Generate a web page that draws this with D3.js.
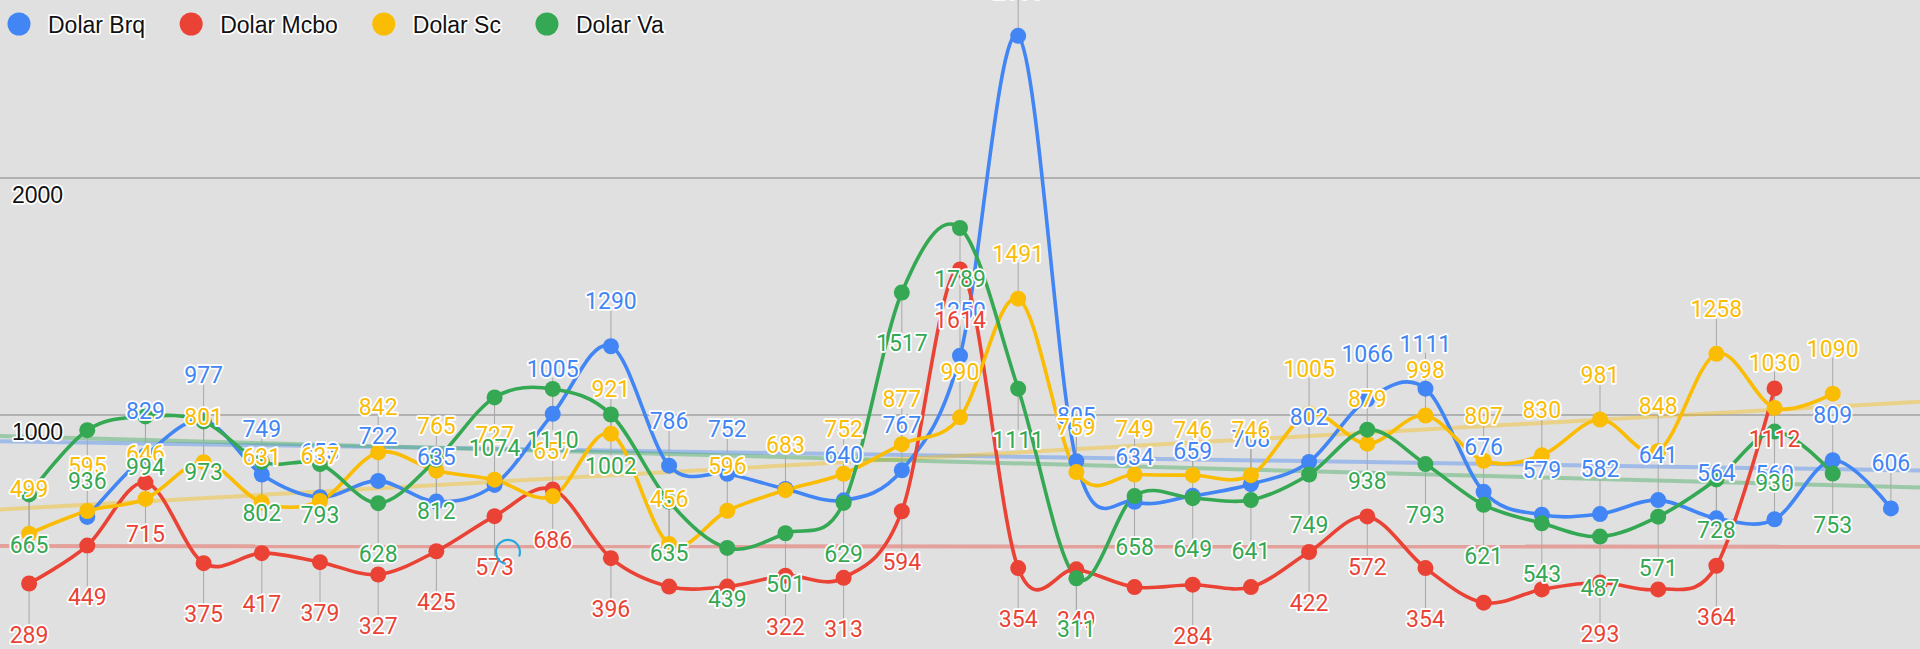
<!DOCTYPE html>
<html>
<head>
<meta charset="utf-8">
<script src="https://cdn.jsdelivr.net/npm/d3@7"></script>
<style>
html, body { margin: 0; padding: 0; background: #e0e0e0; overflow: hidden; }
svg { display: block; }
</style>
</head>
<body>
<svg id="chart" width="1920" height="649"></svg>
<script>
// ---------------- DATA ----------------
const categories = [0, 1, 2, 3, 4, 5, 6, 7, 8, 9, 10, 11, 12, 13, 14, 15, 16,
                    17, 18, 19, 20, 21, 22, 23, 24, 25, 26, 27, 28, 29, 30, 31, 32];

const seriesNames = ["Dolar Brq", "Dolar Mcbo", "Dolar Sc", "Dolar Va"];

const dolarBrq  = [null, 570, 829, 977, 749, 653, 722, 635, 705, 1005, 1290, 786, 752, 688, 640, 767,
                   1250, 2600, 805, 634, 659, 708, 802, 1066, 1111, 676, 579, 582, 641, 564, 560, 809, 606];
const dolarMcbo = [289, 449, 715, 375, 417, 379, 327, 425, 573, 686, 396, 276, 276, 322, 313, 594,
                   1614, 354, 349, 274, 284, 274, 422, 572, 354, 208, 264, 293, 264, 364, 1112, null, null];
const dolarSc   = [499, 595, 646, 801, 631, 637, 842, 765, 727, 657, 921, 456, 596, 683, 752, 877,
                   990, 1491, 759, 749, 746, 746, 1005, 879, 998, 807, 830, 981, 848, 1258, 1030, 1090, null];
const dolarVa   = [665, 936, 994, 973, 802, 793, 628, 812, 1074, 1110, 1002, 635, 439, 501, 629, 1517,
                   1789, 1111, 311, 658, 649, 641, 749, 938, 793, 621, 543, 487, 571, 728, 930, 753, null];

const yTickValues = [0, 1000, 2000, 3000];
const yTickLabels = ["0", "1000", "2000", "3000"];

// annotations that the reference does not show (collisions)
const hiddenAnnotations = { "Dolar Brq": [1, 8, 13] };

// ---------------- STYLE ----------------
const colors = ["#4285F4", "#EA4335", "#FBBC04", "#34A853"];
const labelAbove = [true, false, true, false];
const W = 1920, H = 649;

const series = seriesNames.map((name, k) => ({
  name,
  color: colors[k],
  above: labelAbove[k],
  values: [dolarBrq, dolarMcbo, dolarSc, dolarVa][k]
}));

const svg = d3.select("#chart");
svg.append("rect").attr("width", W).attr("height", H).attr("fill", "#e0e0e0");

const x = d3.scaleLinear().domain([-0.5, 32.5]).range([0, W]);
const y = d3.scaleLinear().domain([0, 2000]).range([652, 178]);

// gridlines
const grid = svg.append("g");
grid.selectAll("line").data(yTickValues).join("line")
  .attr("x1", 0).attr("x2", W)
  .attr("y1", d => y(d)).attr("y2", d => y(d))
  .attr("stroke", "#a2a2a2").attr("stroke-width", 1.6);

// trendlines (least squares on the data)
const trend = svg.append("g");
series.forEach(s => {
  const pts = categories.map((c, i) => [c, s.values[i]]).filter(p => p[1] != null);
  const mx = d3.mean(pts, p => p[0]), my = d3.mean(pts, p => p[1]);
  const sxy = d3.sum(pts, p => (p[0] - mx) * (p[1] - my));
  const sxx = d3.sum(pts, p => (p[0] - mx) * (p[0] - mx));
  const b = sxy / sxx, a = my - b * mx;
  const [x0, x1] = x.domain();
  trend.append("line")
    .attr("x1", x(x0)).attr("x2", x(x1))
    .attr("y1", y(a + b * x0)).attr("y2", y(a + b * x1))
    .attr("stroke", s.color).attr("stroke-width", 4).attr("stroke-opacity", 0.4);
});

// axis labels (inside)
const axisG = svg.append("g");
axisG.selectAll("text").data(yTickValues.map((v, i) => ({ v, t: yTickLabels[i] })).filter(d => d.v === 1000 || d.v === 2000))
  .join("text")
  .attr("x", 12).attr("y", d => y(d.v) + 25)
  .attr("font-family", "'Liberation Sans', Arial, sans-serif").attr("font-size", 23)
  .attr("fill", "#111").attr("stroke", "#fff").attr("stroke-width", 3.5)
  .attr("stroke-linejoin", "round").attr("paint-order", "stroke")
  .text(d => d.t);

// lines
const lineGen = d3.line()
  .defined(d => d.v != null)
  .x(d => x(d.c)).y(d => y(d.v))
  .curve(d3.curveCardinal.tension(0));

const linesG = svg.append("g");
series.forEach(s => {
  linesG.append("path")
    .datum(categories.map((c, i) => ({ c, v: s.values[i] })))
    .attr("d", lineGen)
    .attr("fill", "none").attr("stroke", s.color).attr("stroke-width", 3.6)
    .attr("stroke-linejoin", "round").attr("stroke-linecap", "round");
});

// annotation layout
const annos = [];
series.forEach((s, k) => {
  const hidden = hiddenAnnotations[s.name] || [];
  categories.forEach((c, i) => {
    const v = s.values[i];
    if (v == null || hidden.includes(c)) return;
    const py = y(v);
    let baseline, stemEnd;
    if (s.above) { baseline = py - 37; stemEnd = py - 36; }
    else { baseline = py + 59; stemEnd = py + 41; if (baseline > H - 4.5) return; }
    annos.push({ s, c, v, px: x(c), py, baseline, stemEnd });
  });
});

// stems
svg.append("g").selectAll("line").data(annos).join("line")
  .attr("x1", d => d.px).attr("x2", d => d.px)
  .attr("y1", d => d.py).attr("y2", d => d.stemEnd)
  .attr("stroke", "#a8a8a8").attr("stroke-width", 1);

// points
const ptsG = svg.append("g");
series.forEach(s => {
  ptsG.append("g").selectAll("circle")
    .data(categories.map((c, i) => ({ c, v: s.values[i] })).filter(d => d.v != null))
    .join("circle")
    .attr("cx", d => x(d.c)).attr("cy", d => y(d.v)).attr("r", 8)
    .attr("fill", s.color);
});

// annotation text
svg.append("g").selectAll("text").data(annos).join("text")
  .attr("x", d => d.px).attr("y", d => d.baseline)
  .attr("text-anchor", "middle")
  .attr("font-family", "Roboto, 'Noto Sans', sans-serif").attr("font-size", 23)
  .attr("fill", d => d.s.color)
  .attr("stroke", "#fff").attr("stroke-width", 3.5)
  .attr("stroke-linejoin", "round").attr("paint-order", "stroke")
  .text(d => d.v);

// small cyan touch ring seen in the reference
const ring = svg.append("circle")
  .attr("cx", x(8.23)).attr("cy", y(422)).attr("r", 12)
  .attr("fill", "none").attr("stroke", "#29a8df").attr("stroke-width", 2.2);
const circ = 2 * Math.PI * 12;
ring.attr("stroke-dasharray", `${circ * 0.78} ${circ * 0.22}`)
  .attr("transform", `rotate(100 ${x(8.23)} ${y(422)})`);

// legend
const legend = svg.append("g");
let lx = 8;
series.forEach(s => {
  legend.append("circle").attr("cx", lx + 11).attr("cy", 24).attr("r", 11.5).attr("fill", s.color);
  const t = legend.append("text")
    .attr("x", lx + 40).attr("y", 32.5)
    .attr("font-family", "'Liberation Sans', Arial, sans-serif").attr("font-size", 23)
    .attr("fill", "#111").attr("stroke", "#fff").attr("stroke-width", 3.5)
    .attr("stroke-linejoin", "round").attr("paint-order", "stroke")
    .text(s.name);
  lx = lx + 40 + t.node().getComputedTextLength() + 35;
});
</script>
</body>
</html>
